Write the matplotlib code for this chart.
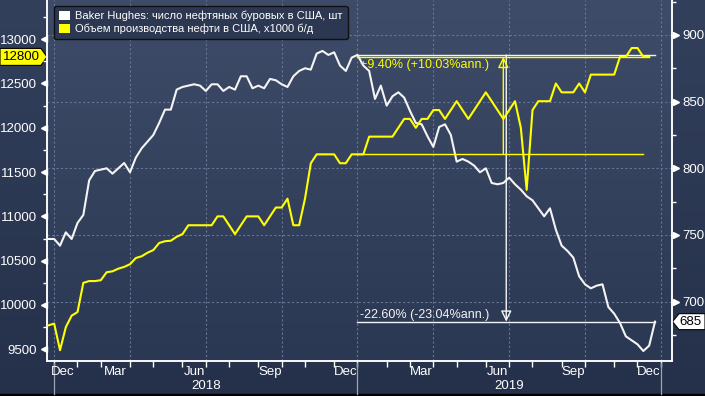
import numpy as np
import pandas as pd
import matplotlib
matplotlib.use("Agg")
import matplotlib.pyplot as plt
import matplotlib.transforms as mtransforms
from matplotlib.colors import LinearSegmentedColormap
from matplotlib.patches import Patch, Polygon, Rectangle

plt.rcParams['font.family'] = ['Liberation Sans', 'DejaVu Sans']

# ---- данные (недельные) ----
rig_start = '2017-12-22'
rig_counts = [
    747, 747,
    742, 752, 747, 759, 765, 791, 798, 799, 800, 796, 800, 804, 797, 808, 815, 820,
    825, 834, 844, 844, 859, 861, 862, 863, 862, 858, 863, 863, 858, 861, 859, 869,
    869, 860, 862, 860, 867, 866, 863, 861, 869, 873, 875, 874, 886, 888, 885, 887,
    877, 873, 883, 885,
    877, 873, 852, 862, 847, 854, 857, 853, 843, 834, 833, 824, 816, 831, 833, 825,
    805, 807, 805, 802, 797, 800, 789, 788, 789, 793, 788, 784, 779, 776, 770, 764,
    770, 754, 742, 738, 733, 719, 713, 710, 712, 713, 696, 691, 684, 674, 671, 668,
    663, 667, 685,
]

prod_start = '2017-12-22'
prod_values = [
    9770, 9790,
    9490, 9750, 9880, 9920, 10250, 10270, 10270, 10280, 10370, 10380, 10410, 10430,
    10460, 10530, 10550, 10590, 10620, 10700, 10720, 10725, 10770, 10800, 10900, 10900,
    10900, 10900, 10900, 11000, 11000, 10900, 10800, 10900, 11000, 11000, 11000, 10900,
    11000, 11100, 11100, 11200, 10900, 10900, 11200, 11600, 11700, 11700, 11700, 11700,
    11600, 11600, 11700, 11700,
    11700, 11900, 11900, 11900, 11900, 11900, 12000, 12100, 12100, 12000, 12100, 12100,
    12200, 12200, 12100, 12200, 12300, 12200, 12100, 12200, 12300, 12400, 12300, 12200,
    12100, 12200, 12300, 12000, 11300, 12200, 12300, 12300, 12300, 12500, 12400, 12400,
    12400, 12500, 12400, 12600, 12600, 12600, 12600, 12600, 12800, 12800, 12900, 12900,
    12800, 12800,
]

rig_label = 'Baker Hughes: число нефтяных буровых в США, шт'
prod_label = 'Объем производства нефти в США, x1000 б/д'

left_ticks = [9500, 10000, 10500, 11000, 11500, 12000, 12500, 13000]
left_minor = [9750, 10250, 10750, 11250, 11750, 12250, 12750, 13250]
right_ticks = [700, 750, 800, 850, 900]
right_minor = [675, 725, 775, 825, 875, 925]
month_names = {12: 'Dec', 3: 'Mar', 6: 'Jun', 9: 'Sep'}

meas_start = '2018-12-28'
prod_base_end = '2019-12-06'
rig_meas_text = '-22.60% (-23.04%ann.)'
prod_meas_text = '+9.40% (+10.03%ann.)'

WHITE = '#f4f4f4'
YELLOW = '#ffff00'

rig_dates = pd.date_range(rig_start, periods=len(rig_counts), freq='7D')
prod_dates = pd.date_range(prod_start, periods=len(prod_values), freq='7D')
rigs = pd.Series(rig_counts, index=rig_dates)
prod = pd.Series(prod_values, index=prod_dates)

fig = plt.figure(figsize=(7.05, 3.96), dpi=100)

# фон всей картинки
grad = np.linspace(0, 1, 256)[:, None]
bg = fig.add_axes([0, 0, 1, 1], zorder=-3)
bg.imshow(grad, aspect='auto', origin='upper', extent=[0, 1, 0, 1],
          cmap=LinearSegmentedColormap.from_list('f', ['#33405c', '#25314a']))
bg.axis('off')

pos = [47 / 705, 35 / 396, 625 / 705, 361 / 396]
pbg = fig.add_axes(pos, zorder=-2)
pbg.imshow(grad, aspect='auto', origin='upper', extent=[0, 1, 0, 1],
           cmap=LinearSegmentedColormap.from_list('p', ['#3e4c69', '#2b3853']))
pbg.axis('off')

ax = fig.add_axes(pos)
ax2 = ax.twinx()
ax.set_zorder(1)
ax2.set_zorder(2)
ax.patch.set_visible(False)
ax2.patch.set_visible(False)

# белая линия (правая ось), желтая (левая ось)
ax.plot(rigs.index, rigs.values, color=WHITE, lw=1.5, zorder=3)
ax2.plot(prod.index, prod.values, color=YELLOW, lw=1.5, zorder=3)

xmin = rig_dates[0] - pd.Timedelta(days=1.6)
xmax = rig_dates[-1] + pd.Timedelta(days=20.4)
ax.set_xlim(xmin, xmax)
ax.set_ylim(655.5, 926.2)
ax2.set_ylim(9368, 13442)

# оси y
ax.yaxis.tick_right()
ax2.yaxis.tick_left()
ax.set_yticks(right_ticks)
ax.set_yticks(right_minor, minor=True)
ax2.set_yticks(left_ticks)
ax2.set_yticks(left_minor, minor=True)
for a in (ax, ax2):
    a.tick_params(axis='y', which='major', length=0, pad=7.3, labelsize=9.5,
                  labelcolor='white')
    a.tick_params(axis='y', which='minor', length=3, width=1, color='white')
    for s in ('left', 'right', 'bottom'):
        a.spines[s].set_color('white')
        a.spines[s].set_linewidth(1.1)
    a.spines['top'].set_visible(False)

# треугольные засечки
tr_right = mtransforms.blended_transform_factory(ax.transAxes, ax.transData) + \
    mtransforms.ScaledTranslation(0.035, 0, fig.dpi_scale_trans)
ax.plot([1] * len(right_ticks), right_ticks, ls='none', marker='>', ms=5,
        color='white', transform=tr_right, clip_on=False)
tr_left = mtransforms.blended_transform_factory(ax2.transAxes, ax2.transData) + \
    mtransforms.ScaledTranslation(-0.035, 0, fig.dpi_scale_trans)
ax2.plot([0] * len(left_ticks), left_ticks, ls='none', marker='<', ms=5,
         color='white', transform=tr_left, clip_on=False)

# ось x: засечки на неделе, в которую попадает начало месяца
month_starts = pd.date_range('2017-12-01', '2020-01-01', freq='MS')
week_ticks = [d - pd.Timedelta(days=(d.weekday() - 4) % 7) for d in month_starts]
ax.set_xticks(week_ticks)
ax.tick_params(axis='x', length=4, width=1, color='white', labelbottom=False)
ax.set_xlim(xmin, xmax)

for ms_, t in zip(month_starts, week_ticks):
    if ms_.month in (1, 4, 7, 10):
        ax.axvline(t, color='#66749a', lw=0.8, ls=(0, (2, 2)), zorder=1)
ax.grid(axis='y', which='major', color='#66749a', lw=0.8, ls=(0, (2, 2)))
ax.set_axisbelow(True)

for i in range(len(month_starts) - 1):
    m = month_starts[i].month
    if m not in month_names:
        continue
    c = week_ticks[i] + (week_ticks[i + 1] - week_ticks[i]) / 2
    ha, dx = 'center', 0
    if c < xmin:
        c, ha, dx = xmin, 'left', 4
    if c > xmax:
        continue
    ax.annotate(month_names[m], xy=(c, 0), xycoords=('data', 'axes fraction'),
                xytext=(dx, -11), textcoords='offset pixels', ha=ha, va='center',
                color='white', fontsize=9.5, annotation_clip=False)

year_ticks = [t for ms_, t in zip(month_starts, week_ticks) if ms_.month == 1]
sep_tr = mtransforms.blended_transform_factory(ax.transData, ax.transAxes)
for t in year_ticks:
    ax.plot([t, t], [-2 / 361, -33 / 361], color='#9aa2b4', lw=0.9,
            transform=sep_tr, clip_on=False)
for a_, b_ in zip(year_ticks[:-1], year_ticks[1:]):
    ax.annotate(str((a_ + pd.Timedelta(days=10)).year), xy=(a_ + (b_ - a_) / 2, 0),
                xycoords=('data', 'axes fraction'), xytext=(0, -25),
                textcoords='offset pixels', ha='center', va='center',
                color='white', fontsize=9.5, annotation_clip=False)

# измерения изменения
m0 = pd.Timestamp(meas_start)
p0, p1 = prod[m0], prod.iloc[-1]
r0, r1 = rigs[m0], rigs.iloc[-1]
p_mid = m0 + (prod.index[-1] - m0) / 2
r_mid = m0 + (rigs.index[-1] - m0) / 2

ax2.plot([m0, pd.Timestamp(prod_base_end)], [p0, p0], color=YELLOW, lw=1.0, zorder=4)
ax2.plot([m0, prod.index[-1]], [p1, p1], color=YELLOW, lw=1.0, zorder=4)
ax2.annotate('', xy=(p_mid, p1), xytext=(p_mid, p0),
             arrowprops=dict(arrowstyle='-|>,head_length=0.65,head_width=0.32',
                             ec=YELLOW, fc='none', lw=1.0, shrinkA=0, shrinkB=0,
                             mutation_scale=10))
ax2.annotate(prod_meas_text, xy=(m0, p1), xytext=(2.5, -2), textcoords='offset pixels',
             ha='left', va='top', color=YELLOW, fontsize=9)

ax.plot([m0, rigs.index[-1]], [r0, r0], color=WHITE, lw=1.0, zorder=4)
ax.plot([m0, rigs.index[-1]], [r1, r1], color=WHITE, lw=1.0, zorder=4)
ax.annotate('', xy=(r_mid, r1), xytext=(r_mid, r0),
            arrowprops=dict(arrowstyle='-|>,head_length=0.65,head_width=0.32',
                            ec=WHITE, fc='none', lw=1.0, shrinkA=0, shrinkB=0,
                            mutation_scale=10))
ax.annotate(rig_meas_text, xy=(m0, r1), xytext=(2.5, 1), textcoords='offset pixels',
            ha='left', va='bottom', color=WHITE, fontsize=9)

# легенда
handles = [Patch(fc='white', ec='none'), Patch(fc=YELLOW, ec='none')]
leg = ax2.legend(handles, [rig_label, prod_label], loc='upper left',
                 bbox_to_anchor=(7 / 625, 1 - 5.7 / 361), borderaxespad=0,
                 fontsize=8, labelcolor='white', facecolor='#2c3852',
                 edgecolor='#101010', framealpha=1, fancybox=True,
                 handlelength=0.95, handleheight=0.95, handletextpad=0.5,
                 borderpad=0.45, labelspacing=0.2)
leg.get_frame().set_linewidth(1.0)

# метки последних значений
ident = mtransforms.IdentityTransform()
fig.canvas.draw()
yl = ax2.transData.transform((0, p1))[1]
fig.add_artist(Polygon([(0, yl - 8.5), (41, yl - 8.5), (47, yl), (41, yl + 8.5), (0, yl + 8.5)],
                       closed=True, fc=YELLOW, ec='black', lw=0.8, transform=ident))
fig.text(21, yl, f'{p1:.0f}', transform=ident, ha='center', va='center',
         color='black', fontsize=9.5)
yr = ax.transData.transform((0, r1))[1]
fig.add_artist(Polygon([(672.5, yr), (679, yr + 8), (705, yr + 8), (705, yr - 8), (679, yr - 8)],
                       closed=True, fc='white', ec='black', lw=0.8, transform=ident))
fig.text(690, yr, f'{r1:.0f}', transform=ident, ha='center', va='center',
         color='black', fontsize=9.5)

fig.add_artist(Rectangle((0, 0), 1, 2.5 / 396, transform=fig.transFigure,
                         color='black'))

fig.savefig('out.png', dpi=100)
